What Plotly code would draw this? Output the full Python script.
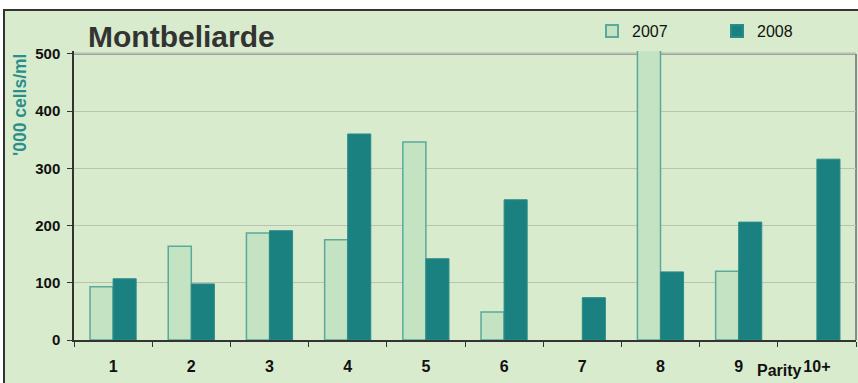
import plotly.graph_objects as go

parity = ["1", "2", "3", "4", "5", "6", "7", "8", "9", "10+"]
cells_2007 = [93, 164, 187, 175, 346, 49, None, 620, 120, None]
cells_2008 = [107, 98, 191, 360, 142, 245, 74, 119, 206, 316]
y_ticks = [0, 100, 200, 300, 400, 500]

BG = "#D9EBCD"
FONT = "Liberation Sans, Arial, sans-serif"

W, H = 858, 383
L, R, T, B = 74, 2, 51, 43
PW, PH = W - L - R, H - T - B


def px_x(px):
    return (px - L) / PW


def px_y(py):
    return (H - B - py) / PH


fig = go.Figure()
fig.add_trace(go.Bar(
    x=parity, y=cells_2007, name="2007",
    marker=dict(color="#C4E3C2", line=dict(color="#5AA99B", width=1.5)),
))
fig.add_trace(go.Bar(
    x=parity, y=cells_2008, name="2008",
    marker=dict(color="#1B8080", line=dict(color="#2A8C87", width=1)),
))

fig.update_layout(
    width=W, height=H,
    margin=dict(l=L, r=R, t=T, b=B, pad=0, autoexpand=False),
    paper_bgcolor="white",
    plot_bgcolor="rgba(0,0,0,0)",
    barmode="group",
    bargap=0.41,
    bargroupgap=0,
    showlegend=True,
    legend=dict(
        orientation="h", x=px_x(592), y=px_y(31), xanchor="left", yanchor="middle",
        bgcolor="rgba(0,0,0,0)", font=dict(family=FONT, size=16, color="#111"),
        entrywidth=80, entrywidthmode="pixels", itemsizing="constant",
    ),
    font=dict(family=FONT),
)

fig.update_xaxes(
    type="category", tickson="boundaries", ticks="outside", ticklen=5,
    tickcolor="#333", showline=True, linecolor="#333", linewidth=1.5,
    tickfont=dict(family=FONT, size=16, color="#111", weight="bold"),
    showgrid=False, range=[-0.5, 9.5], ticklabelstandoff=11,
)
fig.update_yaxes(
    range=[0, 505], tickvals=y_ticks, ticks="outside", ticklen=5,
    tickcolor="#333", showline=True, linecolor="#333", linewidth=1.5,
    tickfont=dict(family=FONT, size=15, color="#111", weight="bold"),
    gridcolor="#B9C3B4", gridwidth=1, zeroline=False, ticklabelstandoff=4,
)

# outer chart box
fig.add_shape(type="rect", xref="paper", yref="paper",
              x0=px_x(4), x1=px_x(870), y0=px_y(395), y1=px_y(10),
              fillcolor=BG, line=dict(color="#333", width=2), layer="below")
# plot frame: top and right edges
fig.add_shape(type="line", xref="paper", yref="y", x0=0, x1=1, y0=500, y1=500,
              line=dict(color="#8A8A8A", width=2), layer="below")
fig.add_shape(type="line", xref="paper", yref="paper", x0=1, x1=1, y0=0, y1=px_y(54),
              line=dict(color="#8A8A8A", width=2), layer="below")

fig.add_annotation(text="Montbeliarde", xref="paper", yref="paper",
                   x=px_x(86), y=px_y(36), xanchor="left", yanchor="middle",
                   showarrow=False,
                   font=dict(family=FONT, size=30, color="#333", weight="bold"))
fig.add_annotation(text="'000 cells/ml", xref="paper", yref="paper",
                   x=px_x(20), y=px_y(105), xanchor="center", yanchor="middle",
                   textangle=-90, showarrow=False,
                   font=dict(family=FONT, size=17.5, color="#2A8F8A", weight="bold"))
fig.add_annotation(text="Parity", xref="paper", yref="paper",
                   x=px_x(779), y=px_y(370), xanchor="center", yanchor="middle",
                   showarrow=False,
                   font=dict(family=FONT, size=16, color="#111", weight="bold"))

fig.write_html("out.html")
